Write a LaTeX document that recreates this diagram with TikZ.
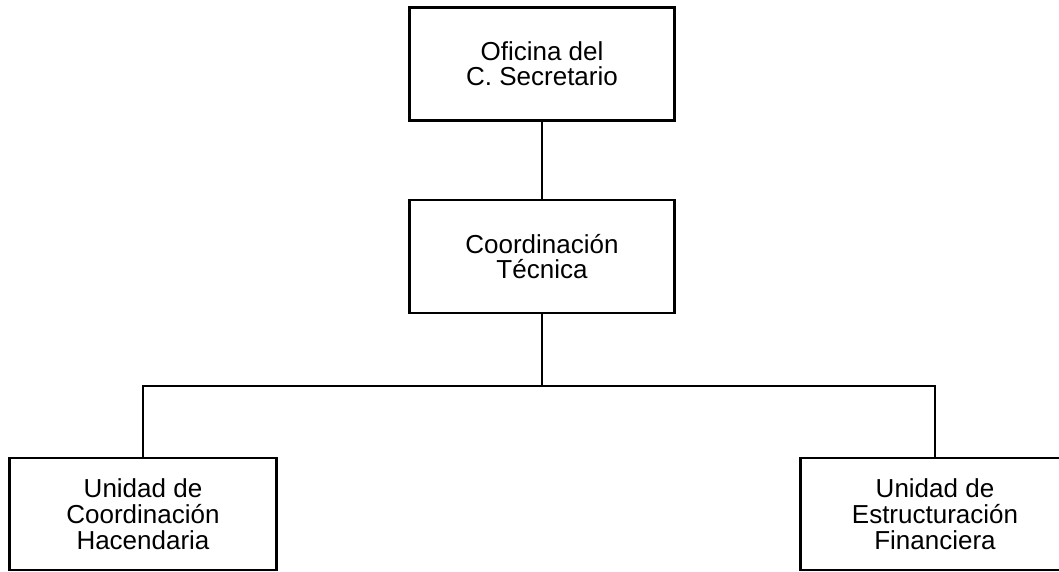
\documentclass[tikz,border=0pt]{standalone}
\usepackage{fontspec}
\setmainfont{Liberation Sans}
\usetikzlibrary{positioning}

\begin{document}
\begin{tikzpicture}[x=0.75pt,y=-0.75pt]
\tikzset{
  orgbox/.style={rectangle,draw,line width=1.9pt,minimum width=199pt,minimum height=85pt,inner sep=0pt,align=center,font=\fontsize{19.5}{18.5}\selectfont},
  orgline/.style={line width=1.9pt}
}
\clip (0,0) rectangle (1059,571);
\node[orgbox] (n_ofi) at (542,64) {Oficina del\\C. Secretario};
\node[orgbox] (n_coord) at (542,256.5) {Coordinación\\Técnica};
\node[orgbox,minimum width=200pt,minimum height=84pt,font=\fontsize{19.5}{19.5}\selectfont] (n_uch) at (143,514) {Unidad de\\Coordinación\\Hacendaria};
\node[orgbox,minimum width=202pt,minimum height=84pt,font=\fontsize{19.5}{19.5}\selectfont] (n_uef) at (935,514) {Unidad de\\Estructuración\\Financiera};
\coordinate (bus) at (542,386);
\draw[orgline] (n_ofi) -- (n_coord);
\draw[orgline] (n_coord) -- (bus);
\draw[orgline] (n_uch.north) |- (bus);
\draw[orgline] (bus) -| (n_uef.north);
\end{tikzpicture}
\end{document}
